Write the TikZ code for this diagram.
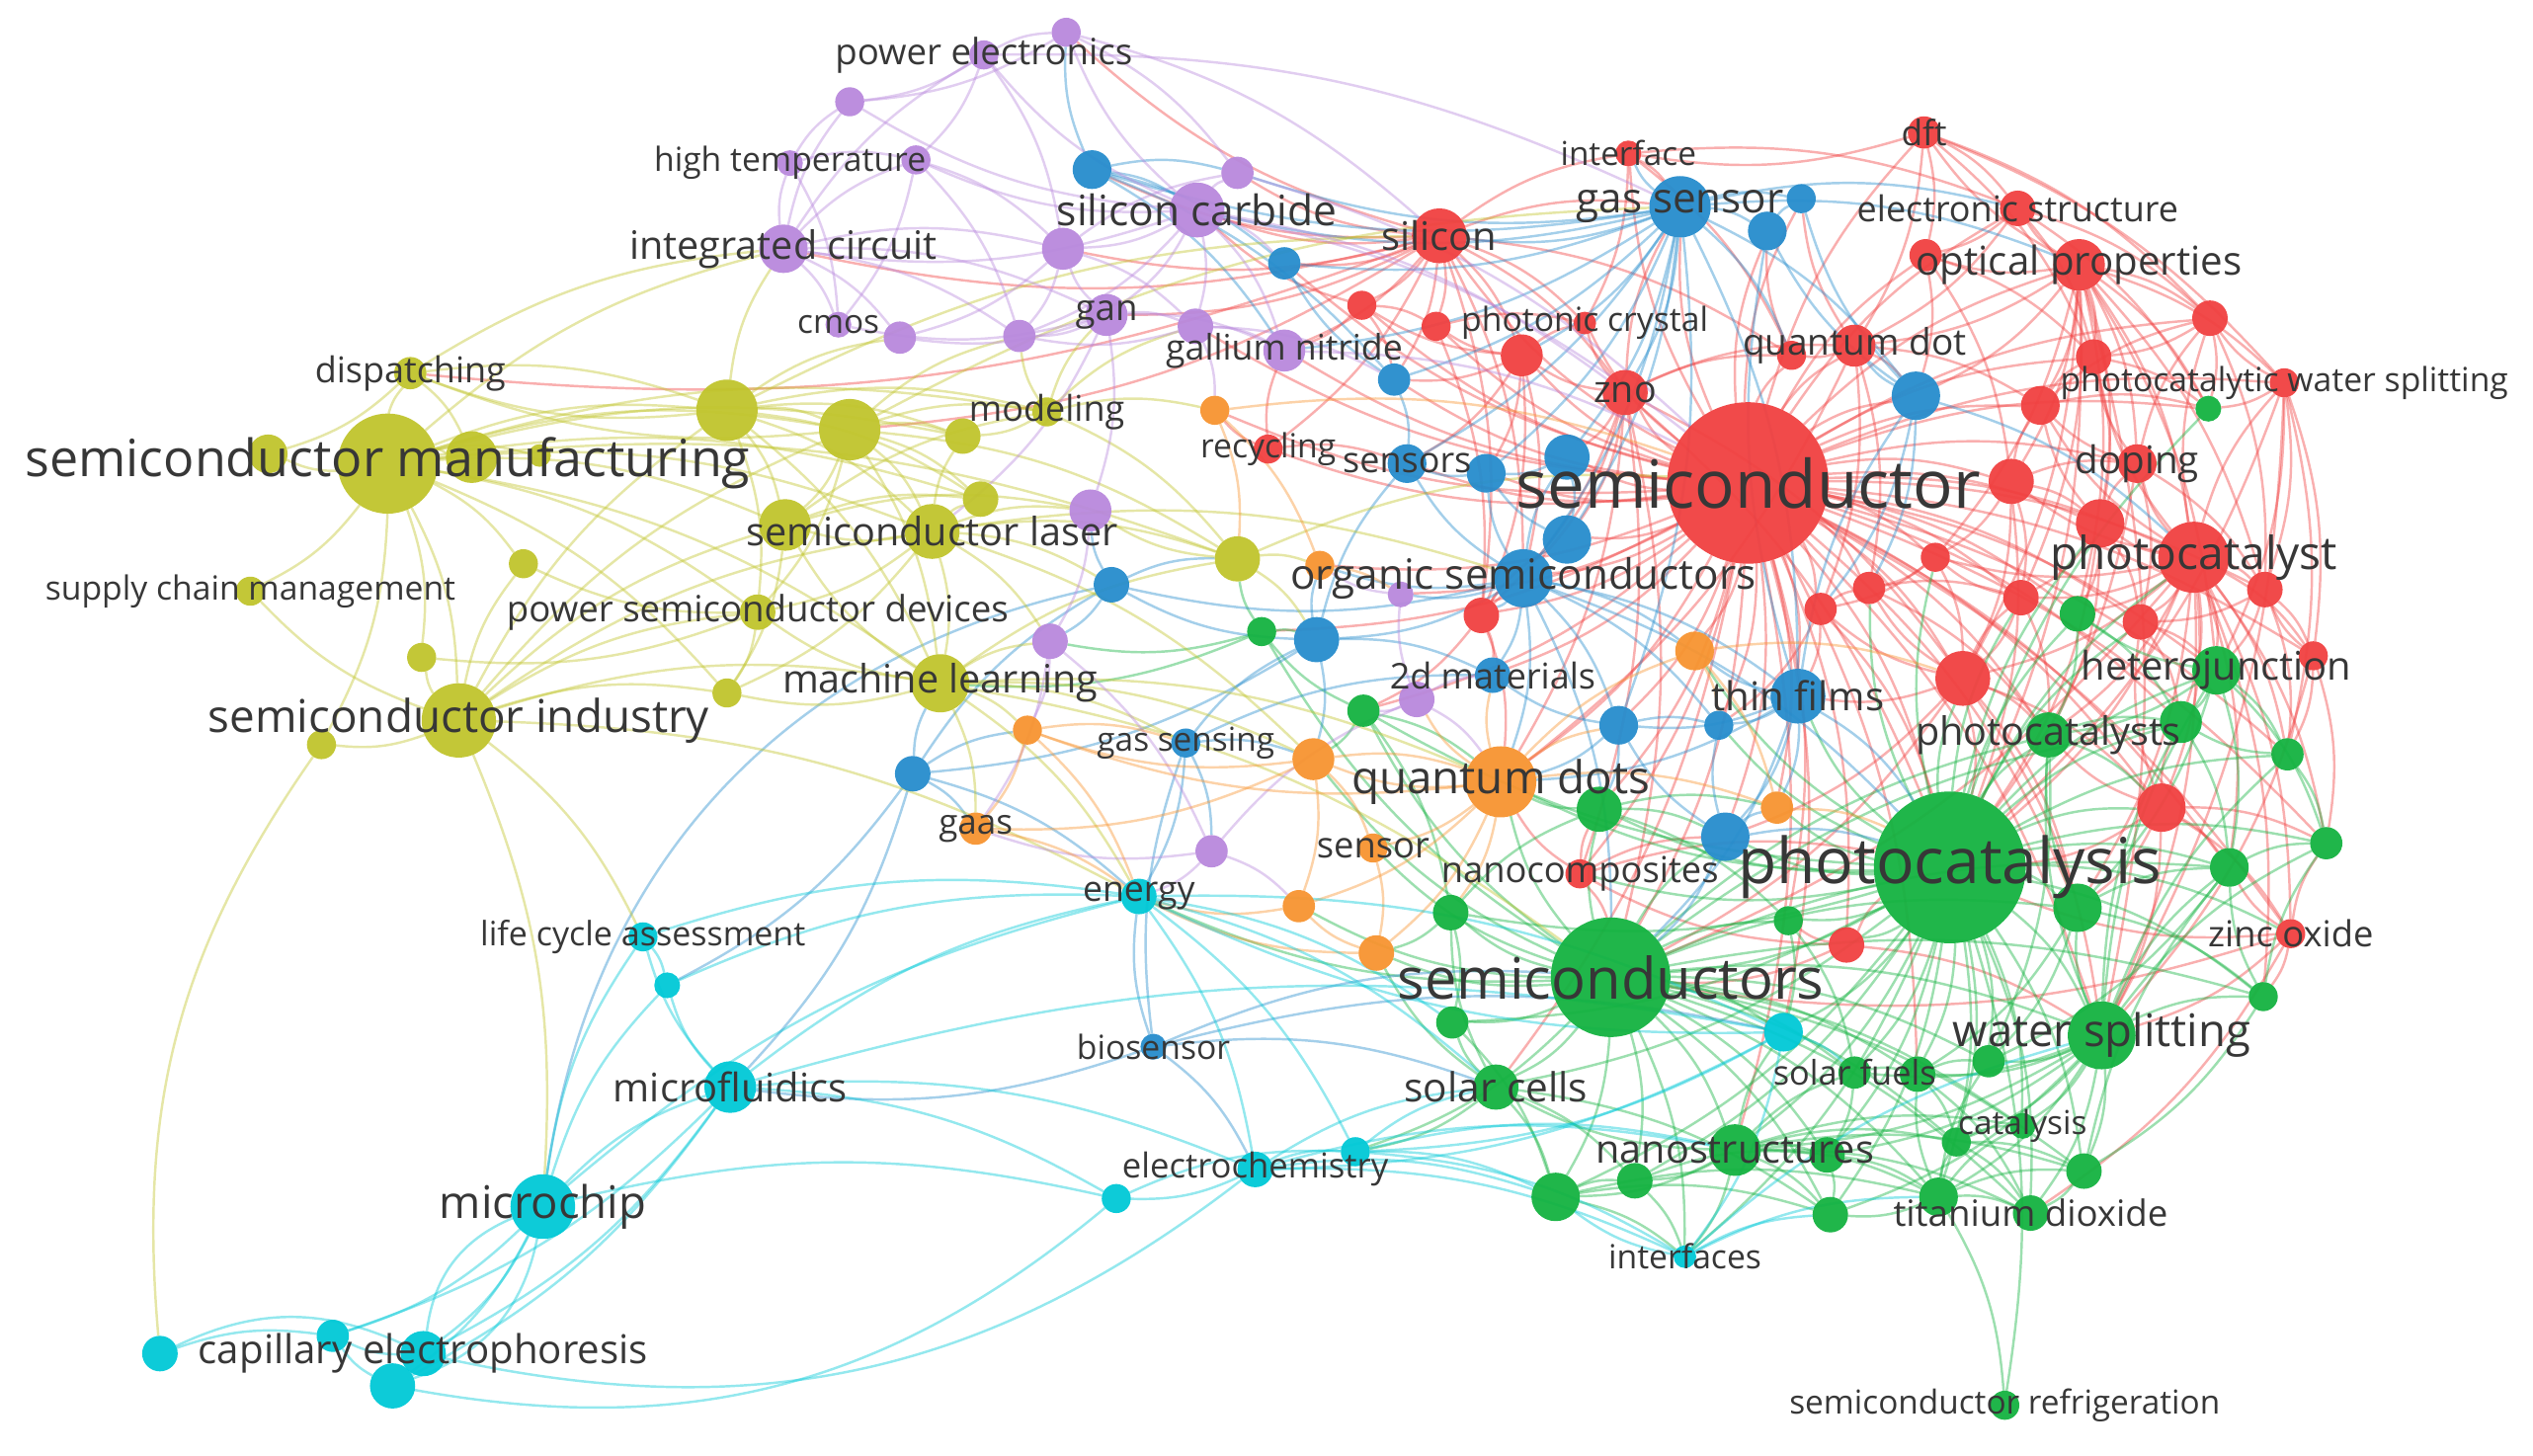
\documentclass[tikz,border=0pt]{standalone}
\usepackage{fontspec}
\setmainfont{Open Sans}
\usetikzlibrary{backgrounds}
\definecolor{vred}{RGB}{240,64,64}
\definecolor{vgreen}{RGB}{20,178,64}
\definecolor{vblue}{RGB}{38,140,204}
\definecolor{vyellow}{RGB}{192,196,44}
\definecolor{vpurple}{RGB}{184,136,220}
\definecolor{vorange}{RGB}{247,148,48}
\definecolor{vcyan}{RGB}{0,200,214}
\definecolor{txt}{RGB}{55,55,55}
\begin{document}
\begin{tikzpicture}[x=0.5pt,y=-0.5pt,
  kw/.style={circle,inner sep=0pt,outer sep=0pt,fill opacity=.95},
  kwr/.style={kw,fill=vred}, kwg/.style={kw,fill=vgreen},
  kwb/.style={kw,fill=vblue}, kwy/.style={kw,fill=vyellow},
  kwp/.style={kw,fill=vpurple}, kwo/.style={kw,fill=vorange},
  kwc/.style={kw,fill=vcyan},
  lbl/.style={text=txt,inner sep=0pt},
  fs/.style={font=\fontsize{#1pt}{#1pt}\selectfont},
  ed/.style={line width=.75pt,draw opacity=.42,bend left=13},
  edr/.style={ed,draw=vred}, edg/.style={ed,draw=vgreen},
  edb/.style={ed,draw=vblue}, edy/.style={ed,draw=vyellow},
  edp/.style={ed,draw=vpurple}, edo/.style={ed,draw=vorange},
  edc/.style={ed,draw=vcyan}]
\useasboundingbox (0,0) rectangle (1568,901);

% yellow cluster
\node[kwy,minimum size=31pt] (smf) at (240,287) {};
\node[kwy,minimum size=23pt] (sind) at (284,446) {};
\node[kwy,minimum size=10pt] (disp) at (254,231) {};
\node[kwy,minimum size=9pt] (scm) at (155,366) {};
\node[kwy,minimum size=12pt] (y1) at (166,281) {};
\node[kwy,minimum size=16pt] (y2) at (292,283) {};
\node[kwy,minimum size=7pt] (y3) at (334,282) {};
\node[kwy,minimum size=19pt] (y4) at (450,254) {};
\node[kwy,minimum size=19pt] (y5) at (526,266) {};
\node[kwy,minimum size=11pt] (y6) at (596,270) {};
\node[kwy,minimum size=9pt] (model) at (648,255) {};
\node[kwy,minimum size=11pt] (y7) at (607,309) {};
\node[kwy,minimum size=16pt] (y8) at (486,325) {};
\node[kwy,minimum size=17pt] (slas) at (577,329) {};
\node[kwy,minimum size=14pt] (y9) at (766,346) {};
\node[kwy,minimum size=11pt] (psd) at (469,379) {};
\node[kwy,minimum size=9pt] (y10) at (324,349) {};
\node[kwy,minimum size=9pt] (y11) at (261,407) {};
\node[kwy,minimum size=9pt] (y12) at (199,461) {};
\node[kwy,minimum size=9pt] (y13) at (450,429) {};
\node[kwy,minimum size=18pt] (ml) at (582,423) {};

% purple cluster
\node[kwp,minimum size=9pt] (pe1) at (609,34) {};
\node[kwp,minimum size=9pt] (pe2) at (660,20) {};
\node[kwp,minimum size=9pt] (p1) at (526,63) {};
\node[kwp,minimum size=8pt] (ht1) at (489,101) {};
\node[kwp,minimum size=9pt] (ht2) at (567,99) {};
\node[kwp,minimum size=10pt] (p2) at (766,107) {};
\node[kwp,minimum size=17pt] (sic) at (741,130) {};
\node[kwp,minimum size=13pt] (p3) at (658,154) {};
\node[kwp,minimum size=15pt] (ic) at (485,154) {};
\node[kwp,minimum size=13pt] (gan) at (685,195) {};
\node[kwp,minimum size=8pt] (cmos) at (519,201) {};
\node[kwp,minimum size=10pt] (p4) at (557,209) {};
\node[kwp,minimum size=10pt] (p5) at (631,208) {};
\node[kwp,minimum size=11pt] (gn1) at (740,202) {};
\node[kwp,minimum size=13pt] (gn2) at (795,217) {};
\node[kwp,minimum size=13pt] (p6) at (675,316) {};
\node[kwp,minimum size=11pt] (p7) at (650,397) {};
\node[kwp,minimum size=8pt] (p8) at (867,368) {};
\node[kwp,minimum size=11pt] (p9) at (877,433) {};
\node[kwp,minimum size=10pt] (p10) at (750,527) {};

% blue cluster
\node[kwb,minimum size=19pt] (gs) at (1040,128) {};
\node[kwb,minimum size=12pt] (b1) at (1094,143) {};
\node[kwb,minimum size=9pt] (b2) at (1115,123) {};
\node[kwb,minimum size=12pt] (b3) at (676,105) {};
\node[kwb,minimum size=10pt] (b4) at (795,163) {};
\node[kwb,minimum size=10pt] (b5) at (863,235) {};
\node[kwb,minimum size=12pt] (sens) at (871,287) {};
\node[kwb,minimum size=12pt] (b6) at (920,293) {};
\node[kwb,minimum size=14pt] (b7) at (970,283) {};
\node[kwb,minimum size=15pt] (b8) at (1186,245) {};
\node[kwb,minimum size=15pt] (b9) at (970,334) {};
\node[kwb,minimum size=18pt] (os) at (943,358) {};
\node[kwb,minimum size=11pt] (b10) at (688,362) {};
\node[kwb,minimum size=14pt] (b11) at (815,396) {};
\node[kwb,minimum size=11pt] (dm) at (924,418) {};
\node[kwb,minimum size=12pt] (b12) at (1002,449) {};
\node[kwb,minimum size=9pt] (b13) at (1064,449) {};
\node[kwb,minimum size=17pt] (tf) at (1113,431) {};
\node[kwb,minimum size=15pt] (b14) at (1068,518) {};
\node[kwb,minimum size=11pt] (b15) at (565,479) {};
\node[kwb,minimum size=9pt] (gsen) at (734,460) {};
\node[kwb,minimum size=8pt] (bios) at (714,648) {};

% red cluster
\node[kwr,minimum size=50pt] (semi) at (1082,299) {};
\node[kwr,minimum size=17pt] (sil) at (891,146) {};
\node[kwr,minimum size=8pt] (intf) at (1008,95) {};
\node[kwr,minimum size=10pt] (dft) at (1191,82) {};
\node[kwr,minimum size=11pt] (es) at (1249,129) {};
\node[kwr,minimum size=10pt] (r1) at (1192,158) {};
\node[kwr,minimum size=16pt] (op) at (1287,164) {};
\node[kwr,minimum size=9pt] (r2) at (843,189) {};
\node[kwr,minimum size=9pt] (r3) at (889,202) {};
\node[kwr,minimum size=7pt] (pc) at (981,200) {};
\node[kwr,minimum size=13pt] (r4) at (942,220) {};
\node[kwr,minimum size=14pt] (zno) at (1006,243) {};
\node[kwr,minimum size=9pt] (qd1) at (1109,220) {};
\node[kwr,minimum size=13pt] (qd2) at (1148,214) {};
\node[kwr,minimum size=9pt] (recy) at (785,278) {};
\node[kwr,minimum size=11pt] (r5) at (1368,197) {};
\node[kwr,minimum size=11pt] (r6) at (1296,221) {};
\node[kwr,minimum size=9pt] (pws) at (1414,237) {};
\node[kwr,minimum size=12pt] (r7) at (1263,251) {};
\node[kwr,minimum size=12pt] (dop) at (1323,287) {};
\node[kwr,minimum size=14pt] (r8) at (1245,298) {};
\node[kwr,minimum size=15pt] (r9) at (1300,324) {};
\node[kwr,minimum size=22pt] (pcst) at (1358,345) {};
\node[kwr,minimum size=9pt] (r10) at (1198,345) {};
\node[kwr,minimum size=11pt] (r11) at (1402,365) {};
\node[kwr,minimum size=11pt] (r12) at (1251,370) {};
\node[kwr,minimum size=11pt] (r13) at (1325,385) {};
\node[kwr,minimum size=9pt] (r14) at (1432,406) {};
\node[kwr,minimum size=17pt] (r15) at (1215,420) {};
\node[kwr,minimum size=15pt] (r16) at (1338,500) {};
\node[kwr,minimum size=9pt] (zo) at (1418,578) {};
\node[kwr,minimum size=11pt] (r17) at (917,381) {};
\node[kwr,minimum size=10pt] (r18) at (1127,377) {};
\node[kwr,minimum size=10pt] (r19) at (1157,364) {};
\node[kwr,minimum size=9pt] (nc) at (978,541) {};
\node[kwr,minimum size=11pt] (r20) at (1143,585) {};

% green cluster
\node[kwg,minimum size=47pt] (pcs) at (1207,537) {};
\node[kwg,minimum size=37pt] (scs) at (997,605) {};
\node[kwg,minimum size=21pt] (ws) at (1301,641) {};
\node[kwg,minimum size=8pt] (g1) at (1367,253) {};
\node[kwg,minimum size=11pt] (g2) at (1286,380) {};
\node[kwg,minimum size=15pt] (hj) at (1372,415) {};
\node[kwg,minimum size=13pt] (g3) at (1350,447) {};
\node[kwg,minimum size=14pt] (pcts) at (1268,455) {};
\node[kwg,minimum size=10pt] (g4) at (1416,467) {};
\node[kwg,minimum size=10pt] (g5) at (1440,522) {};
\node[kwg,minimum size=12pt] (g6) at (1380,537) {};
\node[kwg,minimum size=15pt] (g7) at (1286,562) {};
\node[kwg,minimum size=9pt] (g8) at (1401,617) {};
\node[kwg,minimum size=9pt] (g9) at (781,391) {};
\node[kwg,minimum size=10pt] (g10) at (844,440) {};
\node[kwg,minimum size=14pt] (g11) at (990,501) {};
\node[kwg,minimum size=11pt] (g12) at (898,565) {};
\node[kwg,minimum size=9pt] (g13) at (1107,570) {};
\node[kwg,minimum size=10pt] (g14) at (899,633) {};
\node[kwg,minimum size=14pt] (sc) at (926,673) {};
\node[kwg,minimum size=16pt] (ns) at (1074,712) {};
\node[kwg,minimum size=11pt] (g15) at (1131,715) {};
\node[kwg,minimum size=11pt] (g16) at (1012,731) {};
\node[kwg,minimum size=15pt] (g17) at (963,741) {};
\node[kwg,minimum size=11pt] (g18) at (1133,752) {};
\node[kwg,minimum size=10pt] (sf1) at (1148,664) {};
\node[kwg,minimum size=11pt] (sf2) at (1187,665) {};
\node[kwg,minimum size=10pt] (g19) at (1231,657) {};
\node[kwg,minimum size=9pt] (cat) at (1211,707) {};
\node[kwg,minimum size=8pt] (catn) at (1252,697) {};
\node[kwg,minimum size=11pt] (g20) at (1290,725) {};
\node[kwg,minimum size=12pt] (td1) at (1200,741) {};
\node[kwg,minimum size=11pt] (td2) at (1257,751) {};
\node[kwg,minimum size=9pt] (sref) at (1241,870) {};

% orange cluster
\node[kwo,minimum size=22pt] (qds) at (929,484) {};
\node[kwo,minimum size=12pt] (o1) at (1049,403) {};
\node[kwo,minimum size=10pt] (o2) at (1100,500) {};
\node[kwo,minimum size=13pt] (o3) at (813,470) {};
\node[kwo,minimum size=9pt] (sensr) at (850,525) {};
\node[kwo,minimum size=10pt] (o4) at (804,561) {};
\node[kwo,minimum size=11pt] (o5) at (852,590) {};
\node[kwo,minimum size=9pt] (o6) at (636,452) {};
\node[kwo,minimum size=10pt] (gaas) at (604,513) {};
\node[kwo,minimum size=9pt] (o7) at (752,254) {};
\node[kwo,minimum size=9pt] (o8) at (817,350) {};

% cyan cluster
\node[kwc,minimum size=20pt] (mchip) at (336,747) {};
\node[kwc,minimum size=16pt] (mfl) at (452,673) {};
\node[kwc,minimum size=11pt] (ce1) at (99,838) {};
\node[kwc,minimum size=10pt] (ce2) at (206,827) {};
\node[kwc,minimum size=14pt] (ce3) at (262,838) {};
\node[kwc,minimum size=14pt] (ce4) at (243,858) {};
\node[kwc,minimum size=9pt] (lca) at (398,580) {};
\node[kwc,minimum size=8pt] (c1) at (413,610) {};
\node[kwc,minimum size=11pt] (en) at (705,555) {};
\node[kwc,minimum size=12pt] (c2) at (1104,639) {};
\node[kwc,minimum size=9pt] (ec1) at (691,742) {};
\node[kwc,minimum size=11pt] (ec2) at (777,724) {};
\node[kwc,minimum size=9pt] (ec3) at (839,713) {};
\node[kwc,minimum size=7pt] (intfs) at (1043,778) {};

% labels
\node[lbl,fs=15.9] (smf-t) at (smf) {semiconductor manufacturing};
\node[lbl,fs=20.6] (semi-t) at (semi) {semiconductor};
\node[lbl,fs=19.6] (pcs-t) at (pcs) {photocatalysis};
\node[lbl,fs=17.7] (scs-t) at (scs) {semiconductors};
\node[lbl,fs=14] (sind-t) at (sind) {semiconductor industry};
\node[lbl,fs=13] (sic-t) at (sic) {silicon carbide};
\node[lbl,fs=12.1] (ic-t) at (ic) {integrated circuit};
\node[lbl,fs=14] (qds-t) at (qds) {quantum dots};
\node[lbl,fs=12.9] (os-t) at (os) {organic semiconductors};
\node[lbl,fs=13.9] (ws-t) at (ws) {water splitting};
\node[lbl,fs=14.1] (pcst-t) at (pcst) {photocatalyst};
\node[lbl,fs=12.1] (ml-t) at (ml) {machine learning};
\node[lbl,fs=13.9] (mchip-t) at (mchip) {microchip};
\node[lbl,fs=12.2] (mfl-t) at (mfl) {microfluidics};
\node[lbl,fs=12.3] (ce3-t) at (ce3) {capillary electrophoresis};
\node[lbl,fs=12.1] (slas-t) at (slas) {semiconductor laser};
\node[lbl,fs=11.2] (psd-t) at (psd) {power semiconductor devices};
\node[lbl,fs=12.9] (gs-t) at (gs) {gas sensor};
\node[lbl,fs=12.3] (tf-t) at (tf) {thin films};
\node[lbl,fs=12.3] (op-t) at (op) {optical properties};
\node[lbl,fs=11.8] (dop-t) at (dop) {doping};
\node[lbl,fs=12.2] (hj-t) at (hj) {heterojunction};
\node[lbl,fs=12.1] (pcts-t) at (pcts) {photocatalysts};
\node[lbl,fs=12.4] (sc-t) at (sc) {solar cells};
\node[lbl,fs=12.1] (ns-t) at (ns) {nanostructures};
\node[lbl,fs=11.2] (td2-t) at (td2) {titanium dioxide};
\node[lbl,fs=12.2] (sil-t) at (sil) {silicon};
\node[lbl,fs=11.2] (pe1-t) at (pe1) {power electronics};
\node[lbl,fs=10.3] (ht1-t) at (ht1) {high temperature};
\node[lbl,fs=10.2] (cmos-t) at (cmos) {cmos};
\node[lbl,fs=11.2] (gan-t) at (gan) {gan};
\node[lbl,fs=11] (disp-t) at (disp) {dispatching};
\node[lbl,fs=11] (model-t) at (model) {modeling};
\node[lbl,fs=10.9] (gn2-t) at (gn2) {gallium nitride};
\node[lbl,fs=10.3] (scm-t) at (scm) {supply chain management};
\node[lbl,fs=10.4] (lca-t) at (lca) {life cycle assessment};
\node[lbl,fs=10.9] (en-t) at (en) {energy};
\node[lbl,fs=10.7] (gaas-t) at (gaas) {gaas};
\node[lbl,fs=10.2] (gsen-t) at (gsen) {gas sensing};
\node[lbl,fs=11] (dm-t) at (dm) {2d materials};
\node[lbl,fs=11] (sens-t) at (sens) {sensors};
\node[lbl,fs=10.3] (recy-t) at (recy) {recycling};
\node[lbl,fs=10.2] (intf-t) at (intf) {interface};
\node[lbl,fs=10.8] (dft-t) at (dft) {dft};
\node[lbl,fs=11] (es-t) at (es) {electronic structure};
\node[lbl,fs=10.3] (pc-t) at (pc) {photonic crystal};
\node[lbl,fs=11.3] (qd2-t) at (qd2) {quantum dot};
\node[lbl,fs=11.5] (zno-t) at (zno) {zno};
\node[lbl,fs=10.3] (pws-t) at (pws) {photocatalytic water splitting};
\node[lbl,fs=11.1] (sensr-t) at (sensr) {sensor};
\node[lbl,fs=11.1] (nc-t) at (nc) {nanocomposites};
\node[lbl,fs=11.1] (zo-t) at (zo) {zinc oxide};
\node[lbl,fs=10.3] (bios-t) at (bios) {biosensor};
\node[lbl,fs=10.6] (ec2-t) at (ec2) {electrochemistry};
\node[lbl,fs=10.5] (sf1-t) at (sf1) {solar fuels};
\node[lbl,fs=10.2] (catn-t) at (catn) {catalysis};
\node[lbl,fs=10.3] (intfs-t) at (intfs) {interfaces};
\node[lbl,fs=10.2] (sref-t) at (sref) {semiconductor refrigeration};

\begin{pgfonlayer}{background}
% red links
\foreach \t in {sil,intf,dft,es,r1,op,r2,r3,pc,r4,zno,qd1,qd2,recy,r5,r6,pws,r7,dop,r8,r9,pcst,r10,r11,r12,r13,r14,r15,r16,zo,r17,r18,r19,nc,r20,pcs,scs,ws,gs,b1,b2,b8,os,b7,b9,tf,qds,o1,o2,hj,pcts,g2,g3,g11,g13,sens,b6,dm,b12,b13,o7,o8,gn2,gn1,p8,g9,g10,b5,b4,sc,ns,g7,g6,b14,c2,sf2,g1,g4,g5}
  \draw[edr] (semi) to (\t);
\foreach \t in {dft,es,r1,r5,r6,pws,r7,dop,r9,pcst,qd2,r11,r8,r12,b8,g1,g2,hj,pcs,ws,r15,r10}
  \draw[edr] (op) to (\t);
\foreach \t in {r9,r11,r13,r14,dop,r12,r15,r16,pcs,hj,g2,g3,pcts,g4,g5,g6,zo,ws,r7,r6,r5,pws,g7,g8,r10,r8,scs}
  \draw[edr] (pcst) to (\t);
\foreach \a/\b in {dft/es,dft/r1,dft/pws,dft/r5,dft/qd2,dft/intf,dft/r6,
  sil/r2,sil/r3,sil/pc,sil/r4,sil/zno,sil/intf,sil/sic,sil/gn2,sil/gan,sil/p2,sil/p3,sil/b4,sil/b5,sil/qd1,sil/gs,sil/r17,sil/os,sil/recy,sil/ic,sil/pe2,sil/disp,sil/y5,sil/b3,
  zno/r4,zno/pc,zno/qd1,zno/qd2,zno/r17,zno/b7,zno/os,zno/gs,zno/b9,zno/pcs,zno/scs,zno/qds,zno/nc,zno/r15,
  r15/pcs,r15/pcts,r15/r12,r15/r16,r15/g7,r15/ws,r15/tf,r15/r18,r15/r19,r15/b14,r15/scs,
  r16/pcs,r16/ws,r16/g6,r16/g7,r16/zo,r16/g3,r16/pcts,r16/r13,r16/g5,
  zo/pcs,zo/ws,zo/g5,zo/g6,zo/g8,zo/scs,zo/td2,
  pws/r5,pws/r11,pws/r14,pws/ws,pws/g1,pws/hj,pws/pcs,pws/g4,
  r9/dop,r9/r13,r9/r12,r9/pcs,r9/g2,r9/pcts,r9/r7,
  dop/r7,dop/r5,dop/r13,dop/r11,dop/pcs,dop/r6,
  r4/pc,r4/r2,r4/r3,r4/r17,r4/sens,r4/b6,r4/os,r4/b5,
  qd2/qd1,qd2/b8,qd2/r18,qd2/r19,qd2/qds,qd2/b2,qd2/r7,
  intf/gs,intf/qd1,intf/pc,intf/es,es/r1,es/r6,es/qd2,es/g1,es/r5,
  r14/g4,r14/g5,r14/ws,r14/r11,r20/pcs,r20/scs,r20/ws,r20/g13,r20/nc,
  nc/scs,nc/qds,nc/g11,nc/pcs,nc/b14,r17/os,r17/b9,r17/qds,r17/dm,r17/g10,
  recy/o7,recy/gn2,recy/sens,r2/r3,r2/gn2,r2/b5,r2/sic,
  r12/pcts,r12/r10,r12/r15,r13/g3,r13/hj,
  r8/r7,r8/r12,r8/r10,r8/pcs,r8/r15,r8/dop,r8/r9,r7/r6,r7/r5,r7/g1,
  r5/r6,r5/r11,r5/g1,r11/r13,r11/r14,r11/g4,r11/hj,r10/r19,r10/r18,r10/r15,
  r18/r19,r18/tf,r18/b13,r18/pcs,r19/r12,r19/pcts,r6/r9,r6/g1,qd1/b1,
  r1/r6,r1/r8,r1/b8,r3/pc,r3/r17}
  \draw[edr] (\a) to (\b);
% green links
\foreach \t in {ws,hj,g3,pcts,g4,g5,g6,g7,g8,g13,g11,scs,sc,ns,g15,g16,g17,g18,sf1,sf2,g19,cat,catn,g20,td1,td2,g2,c2,qds,o2,b14,tf,intfs,g12,g14,g1,r13,r16,zo,pcst,nc,r20,g10,sref,r15,r12,r9,r10,r19,b13,o1}
  \draw[edg] (pcs) to (\t);
\foreach \t in {ws,sc,ns,g15,g16,g17,g18,sf1,sf2,g19,cat,g20,td1,td2,g12,g14,g11,g13,qds,o4,o5,sensr,c2,intfs,g10,g9,g6,g7,pcts,b14,ec3,en,o3,g3,g8,catn}
  \draw[edg] (scs) to (\t);
\foreach \t in {sf1,sf2,g19,cat,catn,g20,td1,td2,g7,g8,g6,g5,hj,pcts,g3,ns,g15,g18,g4}
  \draw[edg] (ws) to (\t);
\foreach \a/\b in {ns/g15,ns/g16,ns/g17,ns/g18,ns/td1,ns/td2,ns/cat,ns/sf1,ns/g20,ns/sc,ns/intfs,ns/c2,ns/catn,
  sc/g17,sc/g16,sc/g14,sc/g12,sc/ec3,sc/o5,sc/g18,
  td1/td2,td1/cat,td1/g20,td1/sf2,td1/g19,td1/sref,td1/g18,td1/catn,
  hj/g3,hj/pcts,hj/g4,hj/g5,hj/g6,hj/g2,hj/g7,
  g7/g6,g7/g19,g7/sf2,g7/pcts,g7/g8,g11/qds,g11/g13,g11/b14,g11/o2,
  g10/g9,g10/qds,g10/o3,g10/g12,g17/g16,g17/g18,g17/intfs,g17/td1,
  g8/g5,g8/g6,g8/g20,g4/g5,g4/g3,g13/c2,g13/sf1,
  g9/b11,g9/p7,g9/y9,g9/ml,g20/td2,g20/g6,
  g2/pcts,g2/g3,pcts/g3,pcts/g19,pcts/r16,g3/g6,g6/g5,g6/g19,
  sf2/g19,sf2/cat,sf2/td2,sf1/sf2,sf1/g15,g15/g18,g15/td1,g16/g15,g16/intfs,
  cat/catn,cat/td2,cat/g20,g12/g14,g12/g11,g12/o5,g14/g17}
  \draw[edg] (\a) to (\b);
% blue links
\foreach \t in {b1,b2,b3,b4,b5,sens,b6,b7,b8,os,b9,tf,b12,intf,sil,zno,qd1,r4,op,es,gn2,p2,sic}
  \draw[edb] (gs) to (\t);
\foreach \t in {b9,b7,b6,sens,dm,b12,b11,tf,b13,b10,p8,r17,qds,scs,pcs,o1,o8}
  \draw[edb] (os) to (\t);
\foreach \a/\b in {tf/b13,tf/b12,tf/b14,tf/o1,tf/o2,tf/pcs,tf/scs,tf/b8,tf/qds,tf/b1,
  b8/b1,b8/b2,b8/qd2,b8/r18,b8/r19,b8/pcst,
  b3/b4,b3/sic,b3/p2,b3/pe2,b3/b5,b3/gn2,
  b11/b10,b11/dm,b11/sens,b11/o3,b11/o8,b11/b15,
  b15/ml,b15/b10,b15/o6,b15/gaas,b15/en,b15/c1,b15/mfl,
  b14/b12,b14/b13,b14/o2,b14/scs,b14/pcs,
  bios/en,bios/scs,bios/mfl,bios/ec2,bios/gsen,bios/c2,bios/sc,
  gsen/b11,gsen/en,gsen/o3,gsen/p10,gsen/dm,
  b12/dm,b12/b13,b12/g11,b12/qds,b10/p6,b10/y9,b10/p7,b5/sens,b5/b4,
  b7/b6,b7/b9,b9/b6,b1/b2,b6/sens}
  \draw[edb] (\a) to (\b);
\draw[edb,bend left=35] (mchip) to (b10);
% yellow links
\foreach \t in {y1,y2,y3,disp,scm,y4,y5,y6,y7,slas,y8,psd,y10,y11,sind,y12,ml,model,y9,ic,y13}
  \draw[edy] (smf) to (\t);
\foreach \t in {y11,y12,y10,scm,y13,psd,ml,slas,y4,y5,y8,lca,mchip,en}
  \draw[edy] (sind) to (\t);
\foreach \a/\b in {y4/y5,y4/y6,y4/slas,y4/y8,y4/disp,y4/ic,y4/p4,y4/model,y4/y7,y4/psd,y4/ml,
  y5/y6,y5/y7,y5/slas,y5/y8,y5/model,y5/psd,y5/ml,y5/y9,y5/disp,y5/p5,
  slas/y8,slas/psd,slas/ml,slas/y7,slas/y6,slas/p6,slas/y13,slas/y9,slas/b10,slas/o3,slas/p7,
  ml/y8,ml/psd,ml/y13,ml/y9,ml/p7,ml/o6,ml/gaas,ml/en,ml/gsen,ml/o3,
  y8/y7,y8/model,y8/p6,y8/y13,psd/y13,psd/y10,psd/y11,
  model/y6,model/gan,model/p5,model/y9,model/o7,model/gn1,
  y9/p6,y9/o8,y9/b11,disp/y1,disp/y2,disp/y4,disp/ic,
  y9/semi,slas/os,ml/qds,y5/gs,y4/sil,ml/scs}
  \draw[edy] (\a) to (\b);
\draw[edy,bend right=20] (y12) to (ce1);
% purple links
\foreach \t in {p2,p3,gan,gn1,gn2,pe1,pe2,ht2,p1,ic,p5,b4,semi,zno}
  \draw[edp] (sic) to (\t);
\foreach \a/\b in {ic/p1,ic/ht1,ic/ht2,ic/cmos,ic/p4,ic/p3,ic/pe1,ic/p5,ic/gan,
  gan/p3,gan/gn1,gan/gn2,gan/p5,gan/p4,gan/cmos,gan/p6,gan/slas,
  pe1/pe2,pe1/p1,pe1/ht2,pe1/p3,pe2/p2,pe2/p1,ht1/ht2,ht1/p1,ht1/cmos,
  ht2/p3,ht2/p5,ht2/cmos,p3/p5,p3/gn1,p3/p2,p3/p4,
  gn1/gn2,gn1/p5,gn1/o7,gn1/b5,p6/p7,p7/p10,p7/o6,p7/gaas,
  p10/en,p10/gaas,p10/o4,p10/p9,p9/p8,p9/dm,p9/g10,p9/qds,p8/o8,
  pe1/gs,pe2/sil,p2/semi,gn2/semi}
  \draw[edp] (\a) to (\b);
% orange links
\foreach \t in {o1,o2,o3,sensr,o4,o5,g12,dm,b12,p9,o6}
  \draw[edo] (qds) to (\t);
\foreach \a/\b in {o1/b13,o1/o2,o1/r15,o3/o6,o3/gaas,o3/sensr,o3/o4,
  o6/gaas,o6/en,o6/gsen,o7/o8,o7/y9,o8/p8,o5/o4,o5/en,gaas/en,o4/en,
  o7/semi,o3/qds,sensr/o5,o2/pcs}
  \draw[edo] (\a) to (\b);
% cyan links
\foreach \t in {mfl,ce2,ce3,ce4,lca,c1,en,ec1}
  \draw[edc] (mchip) to (\t);
\foreach \t in {ce2,ce3,ce4,lca,c1,en,ec1,ec2,c2}
  \draw[edc] (mfl) to (\t);
\foreach \a/\b in {ce3/ce4,ce3/ce2,ce1/ce2,ce4/ce2,
  lca/c1,lca/en,en/ec2,en/ec3,en/c2,en/sc,en/g14,
  ec2/ec1,ec2/ec3,ec2/sc,ec2/ns,ec2/intfs,ec2/g17,ec1/ec3,
  ec3/sc,ec3/g17,ec3/intfs,ec3/ns,c2/intfs,c2/sf1,
  intfs/g17,intfs/g18,intfs/td1,intfs/ws,c1/en,c2/ec2,c2/ec3,c2/en}
  \draw[edc] (\a) to (\b);
\draw[edc,bend right=30] (mchip) to (ce3);
\draw[edc,bend left=30] (mchip) to (ce4);
\draw[edc,bend left=25] (ce1) to (ce3);
\draw[edc,bend right=25] (ce4) to (ec1);
\draw[edc,bend right=25] (ce3) to (ec2);
\end{pgfonlayer}
\end{tikzpicture}
\end{document}
